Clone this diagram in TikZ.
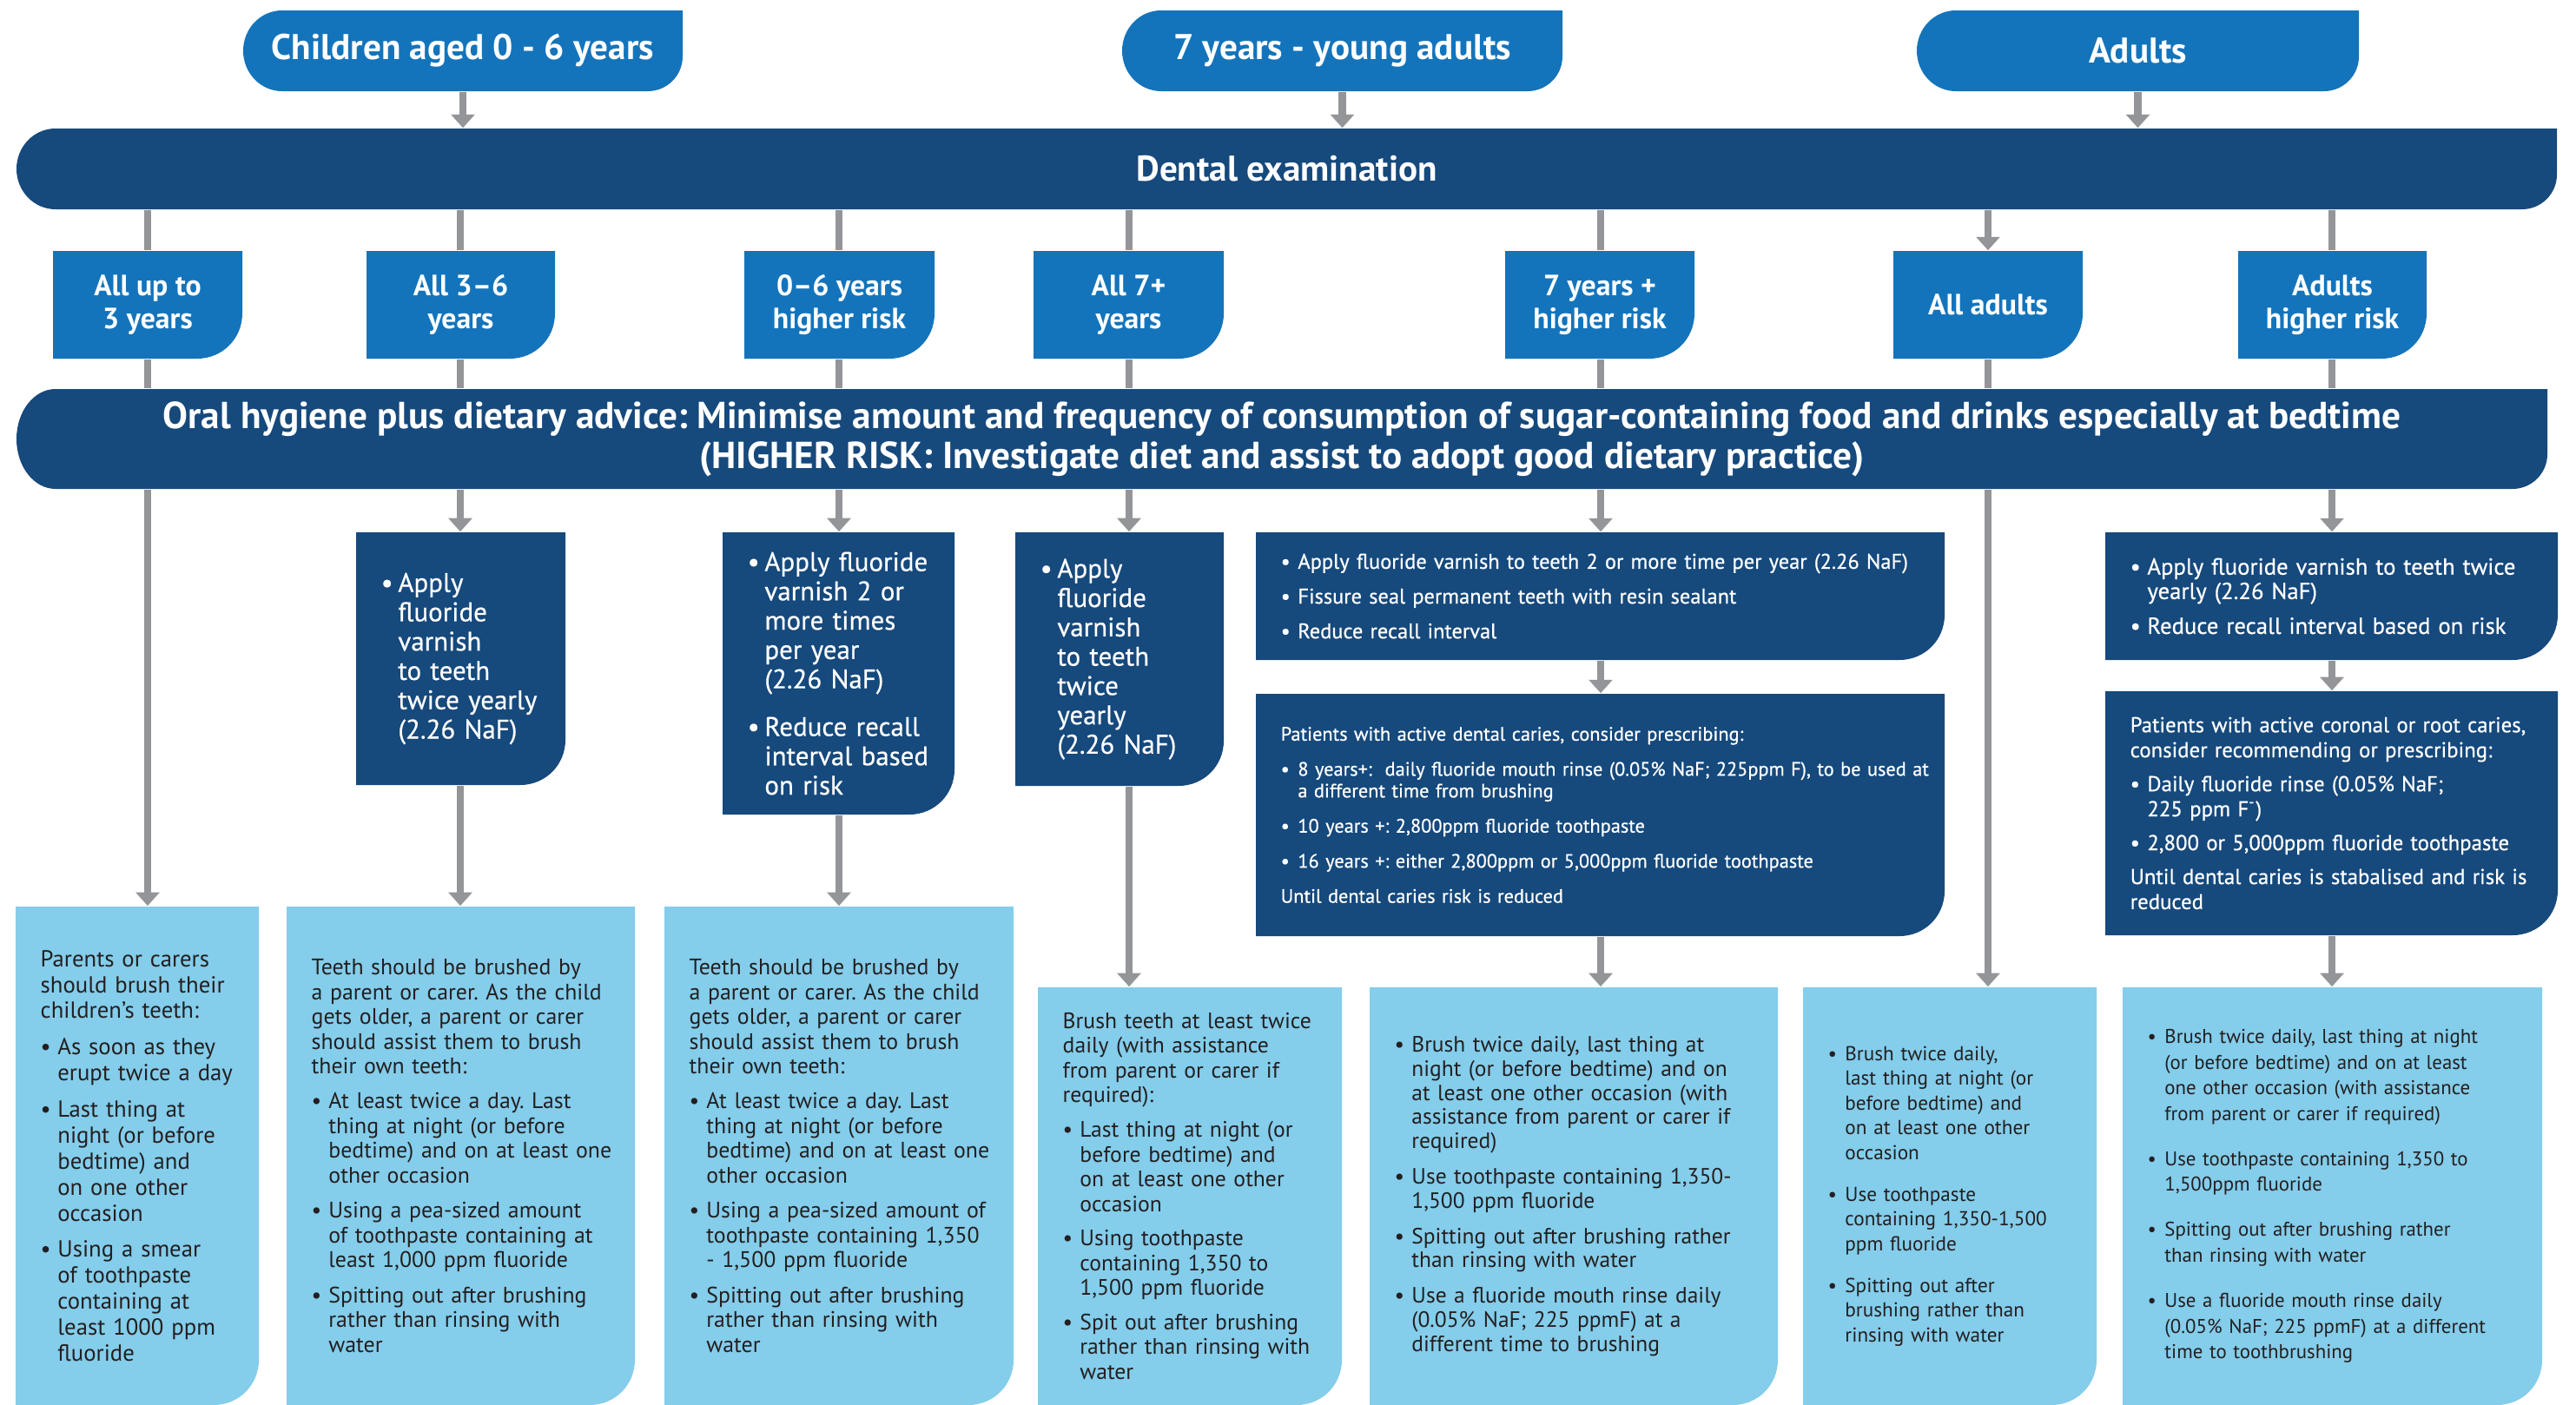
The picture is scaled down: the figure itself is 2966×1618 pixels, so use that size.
\documentclass[tikz,border=0pt]{standalone}
\usepackage{fontspec}
\setmainfont{PT Sans}
\newfontfamily\medfont{PT Sans}[FakeBold=0.5]
\usetikzlibrary{arrows.meta}
\frenchspacing

\definecolor{midblue}{HTML}{1474BB}
\definecolor{navy}{HTML}{16497C}
\definecolor{skyblue}{HTML}{84CDEB}
\definecolor{linegrey}{HTML}{939598}
\definecolor{inkgrey}{HTML}{231F20}

\tikzset{
  link/.style={linegrey, line width=2.3pt},
  arrow/.style={link, -{Triangle[length=4.4pt, width=7.6pt]}},
  itemgap/.style={execute at begin node={\setlength{\parskip}{#1}}},
  headtext/.style={text=white, font=\bfseries\fontsize{11.7}{13.1}\selectfont, align=center, inner sep=0pt},
  cattext/.style={text=white, font=\bfseries\fontsize{9.6}{10.8}\selectfont, align=center, inner sep=0pt},
  darktext/.style={text=white, font=\medfont\fontsize{8.8}{9.6}\selectfont, align=left, inner sep=0pt, itemgap=6pt},
  lighttext/.style={text=inkgrey, font=\fontsize{7.6}{8.5}\selectfont, align=left, inner sep=0pt, itemgap=3.4pt}
}

% bullet with hanging indent
\newcommand\bul{\hangindent=5.6pt\hangafter=1\makebox[5.6pt][l]{\textbullet}}

% box rounded on the left, bottom right corner rounded
\newcommand\capbox[8]{%
  \fill[#2] (#4+45,#5) -- (#6,#5) -- (#6,#7-40) .. controls (#6,#7-18) and (#6-18,#7) .. (#6-40,#7)
    -- (#4+45,#7) .. controls (#4+20,#7) and (#4,{#7-0.224*(#7-#5)}) .. (#4,{(#5+#7)/2})
    .. controls (#4,{#5+0.224*(#7-#5)}) and (#4+20,#5) .. (#4+45,#5) -- cycle;
  \pgfmathsetmacro\boxw{(#6-#4)*0.284528}%
  \pgfmathsetmacro\boxh{(#7-#5)*0.284528}%
  \node[#3, minimum width=\boxw pt, minimum height=\boxh pt] (#1) at ({(#4+#6)/2},{(#5+#7)/2}) {#8};
}

% category tab, bottom right corner rounded
\newcommand\tabcat[6]{%
  \fill[midblue] (#2,#3) -- (#4,#3) -- (#4,#5-52) .. controls (#4,#5-23) and (#4-23,#5) .. (#4-52,#5) -- (#2,#5) -- cycle;
  \pgfmathsetmacro\boxw{(#4-#2)*0.284528}%
  \pgfmathsetmacro\boxh{(#5-#3)*0.284528}%
  \node[cattext, minimum width=\boxw pt, minimum height=\boxh pt] (#1) at ({(#2+#4)/2},{(#3+#5)/2}) {#6};
}

% text box, bottom right corner rounded, text on the left
\newcommand\tabbox[8]{%
  \fill[#2] (#4,#5) -- (#6,#5) -- (#6,#7-52) .. controls (#6,#7-23) and (#6-23,#7) .. (#6-52,#7) -- (#4,#7) -- cycle;
  \pgfmathsetmacro\boxw{(#6-#4-36)*0.284528}%
  \pgfmathsetmacro\boxh{(#7-#5)*0.284528}%
  \node[#3, anchor=west, text width=\boxw pt, minimum height=\boxh pt] (#1) at (#4+28,{(#5+#7)/2}) {#8\par};
}

\begin{document}
\begin{tikzpicture}[x=0.01cm, y=-0.01cm]
\useasboundingbox (0,0) rectangle (2966,1618);

% age groups
\capbox{kids}{midblue}{headtext}{280}{12}{786}{105}{Children aged 0 - 6 years}
\capbox{youth}{midblue}{headtext}{1292}{12}{1799}{105}{7 years - young adults}
\capbox{adults}{midblue}{headtext}{2207}{12}{2716}{105}{Adults}

% bars
\capbox{exam}{navy}{headtext}{19}{148}{2944}{241}{Dental examination}
\capbox{oral}{navy}{headtext, font=\bfseries\fontsize{12.3}{13.1}\selectfont}{19}{448}{2933}{563}%
  {Oral hygiene plus dietary advice: Minimise amount and frequency of consumption of sugar-containing food and drinks especially at bedtime\\
   (HIGHER RISK: Investigate diet and assist to adopt good dietary practice)}

% categories
\tabcat{uptothree}{61}{289}{279}{413}{All up to\\3 years}
\tabcat{threesix}{422}{289}{639}{413}{All 3–6\\years}
\tabcat{zerosixhigh}{857}{289}{1076}{413}{0–6 years\\higher risk}
\tabcat{sevenplus}{1190}{289}{1409}{413}{All 7+\\years}
\tabcat{sevenhigh}{1733}{289}{1951}{413}{7 years +\\higher risk}
\tabcat{alladults}{2180}{289}{2398}{413}{All adults}
\tabcat{adulthigh}{2577}{289}{2794}{413}{Adults\\higher risk}

% professional care
\tabbox{var36}{navy}{darktext}{410}{613}{651}{904}%
  {\bul Apply\newline fluoride\newline varnish\newline to teeth\newline twice yearly\newline (2.26 NaF)}
\tabbox{var06}{navy}{darktext}{832}{613}{1099}{938}%
  {\bul Apply fluoride\newline varnish 2 or\newline more times\newline per year\newline (2.26 NaF)\par
   \bul Reduce recall\newline interval based\newline on risk}
\tabbox{var7}{navy}{darktext}{1169}{613}{1409}{905}%
  {\bul Apply\newline fluoride\newline varnish\newline to teeth\newline twice\newline yearly\newline (2.26 NaF)}
\tabbox{pro7}{navy}{darktext, font=\medfont\fontsize{6.95}{7.6}\selectfont, itemgap=3.8pt}{1446}{613}{2239}{760}%
  {\bul Apply fluoride varnish to teeth 2 or more time per year (2.26 NaF)\par
   \bul Fissure seal permanent teeth with resin sealant\par
   \bul Reduce recall interval}
\tabbox{rx7}{navy}{darktext, font=\medfont\fontsize{6.35}{7.1}\selectfont, itemgap=4.4pt}{1446}{799}{2239}{1078}%
  {Patients with active dental caries, consider prescribing:\par
   \bul 8 years+:\ \ daily fluoride mouth rinse (0.05\% NaF; 225ppm F), to be used at\newline a different time from brushing\par
   \bul 10 years +: 2,800ppm fluoride toothpaste\par
   \bul 16 years +: either 2,800ppm or 5,000ppm fluoride toothpaste\par
   Until dental caries risk is reduced}
\tabbox{proad}{navy}{darktext, font=\medfont\fontsize{7.6}{8}\selectfont, itemgap=3.4pt}{2424}{613}{2945}{760}%
  {\bul Apply fluoride varnish to teeth twice\newline yearly (2.26 NaF)\par
   \bul Reduce recall interval based on risk}
\tabbox{rxad}{navy}{darktext, font=\medfont\fontsize{7.05}{8.2}\selectfont, itemgap=2.9pt}{2424}{796}{2945}{1077}%
  {Patients with active coronal or root caries,\newline consider recommending or prescribing:\par
   \bul Daily fluoride rinse (0.05\% NaF;\newline 225 ppm F\textsuperscript{-})\par
   \bul 2,800 or 5,000ppm fluoride toothpaste\par
   Until dental caries is stabalised and risk is\newline reduced}

% home care
\tabbox{home1}{skyblue}{lighttext}{18}{1044}{298}{1618}%
  {Parents or carers\newline should brush their\newline children’s teeth:\par
   \bul As soon as they\newline erupt twice a day\par
   \bul Last thing at\newline night (or before\newline bedtime) and\newline on one other\newline occasion\par
   \bul Using a smear\newline of toothpaste\newline containing at\newline least 1000 ppm\newline fluoride}
\tabbox{home2}{skyblue}{lighttext, font=\fontsize{7.35}{8.1}\selectfont}{330}{1044}{731}{1618}%
  {Teeth should be brushed by\newline a parent or carer. As the child\newline gets older, a parent or carer\newline should assist them to brush\newline their own teeth:\par
   \bul At least twice a day. Last\newline thing at night (or before\newline bedtime) and on at least one\newline other occasion\par
   \bul Using a pea-sized amount\newline of toothpaste containing at\newline least 1,000 ppm fluoride\par
   \bul Spitting out after brushing\newline rather than rinsing with\newline water}
\tabbox{home3}{skyblue}{lighttext, font=\fontsize{7.35}{8.1}\selectfont}{765}{1044}{1167}{1618}%
  {Teeth should be brushed by\newline a parent or carer. As the child\newline gets older, a parent or carer\newline should assist them to brush\newline their own teeth:\par
   \bul At least twice a day. Last\newline thing at night (or before\newline bedtime) and on at least one\newline other occasion\par
   \bul Using a pea-sized amount of\newline toothpaste containing 1,350\newline - 1,500 ppm fluoride\par
   \bul Spitting out after brushing\newline rather than rinsing with\newline water}
\tabbox{home4}{skyblue}{lighttext, font=\fontsize{7.3}{8.1}\selectfont, itemgap=3.2pt}{1195}{1137}{1545}{1618}%
  {Brush teeth at least twice\newline daily (with assistance\newline from parent or carer if\newline required):\par
   \bul Last thing at night (or\newline before bedtime) and\newline on at least one other\newline occasion\par
   \bul Using toothpaste\newline containing 1,350 to\newline 1,500 ppm fluoride\par
   \bul Spit out after brushing\newline rather than rinsing with\newline water}
\tabbox{home5}{skyblue}{lighttext, font=\fontsize{7.25}{7.9}\selectfont, itemgap=3.7pt}{1577}{1137}{2047}{1618}%
  {\bul Brush twice daily, last thing at\newline night (or before bedtime) and on\newline at least one other occasion (with\newline assistance from parent or carer if\newline required)\par
   \bul Use toothpaste containing 1,350-\newline 1,500 ppm fluoride\par
   \bul Spitting out after brushing rather\newline than rinsing with water\par
   \bul Use a fluoride mouth rinse daily\newline (0.05\% NaF; 225 ppmF) at a\newline different time to brushing}
\tabbox{home6}{skyblue}{lighttext, font=\fontsize{6.6}{8.1}\selectfont, itemgap=5.5pt}{2076}{1137}{2414}{1618}%
  {\bul Brush twice daily,\newline last thing at night (or\newline before bedtime) and\newline on at least one other\newline occasion\par
   \bul Use toothpaste\newline containing 1,350-1,500\newline ppm fluoride\par
   \bul Spitting out after\newline brushing rather than\newline rinsing with water}
\tabbox{home7}{skyblue}{lighttext, font=\fontsize{6.5}{8.4}\selectfont, itemgap=6.4pt}{2444}{1137}{2927}{1618}%
  {\bul Brush twice daily, last thing at night\newline (or before bedtime) and on at least\newline one other occasion (with assistance\newline from parent or carer if required)\par
   \bul Use toothpaste containing 1,350 to\newline 1,500ppm fluoride\par
   \bul Spitting out after brushing rather\newline than rinsing with water\par
   \bul Use a fluoride mouth rinse daily\newline (0.05\% NaF; 225 ppmF) at a different\newline time to toothbrushing}

% columns
\coordinate (c1) at (170,0);
\coordinate (c2) at (530,0);
\coordinate (c3) at (966,0);
\coordinate (c4) at (1300,0);
\coordinate (c5) at (1843,0);
\coordinate (c6) at (2289,0);
\coordinate (c7) at (2685,0);

% connectors
\draw[arrow] (kids.south) -- (exam.north -| kids.south);
\draw[arrow] (youth.south) -- (exam.north -| youth.south);
\draw[arrow] (adults.south) -- (exam.north -| adults.south);

\draw[link] (exam.south -| c1) -- (uptothree.north -| c1);
\draw[link] (exam.south -| c2) -- (threesix.north -| c2);
\draw[link] (exam.south -| c3) -- (zerosixhigh.north -| c3);
\draw[link] (exam.south -| c4) -- (sevenplus.north -| c4);
\draw[link] (exam.south -| c5) -- (sevenhigh.north -| c5);
\draw[arrow] (exam.south -| c6) -- (alladults.north -| c6);
\draw[link] (exam.south -| c7) -- (adulthigh.north -| c7);

\draw[link] (uptothree.south -| c1) -- (oral.north -| c1);
\draw[link] (threesix.south -| c2) -- (oral.north -| c2);
\draw[link] (zerosixhigh.south -| c3) -- (oral.north -| c3);
\draw[link] (sevenplus.south -| c4) -- (oral.north -| c4);
\draw[link] (sevenhigh.south -| c5) -- (oral.north -| c5);
\draw[link] (alladults.south -| c6) -- (oral.north -| c6);
\draw[link] (adulthigh.south -| c7) -- (oral.north -| c7);

\draw[arrow] (oral.south -| c1) -- (home1.north -| c1);
\draw[arrow] (oral.south -| c2) -- (var36.north -| c2);
\draw[arrow] (var36.south -| c2) -- (home2.north -| c2);
\draw[arrow] (oral.south -| c3) -- (var06.north -| c3);
\draw[arrow] (var06.south -| c3) -- (home3.north -| c3);
\draw[arrow] (oral.south -| c4) -- (var7.north -| c4);
\draw[arrow] (var7.south -| c4) -- (home4.north -| c4);
\draw[arrow] (oral.south -| c5) -- (pro7.north -| c5);
\draw[arrow] (pro7.south -| c5) -- (rx7.north -| c5);
\draw[arrow] (rx7.south -| c5) -- (home5.north -| c5);
\draw[arrow] (oral.south -| c6) -- (home6.north -| c6);
\draw[arrow] (oral.south -| c7) -- (proad.north -| c7);
\draw[arrow] (proad.south -| c7) -- (rxad.north -| c7);
\draw[arrow] (rxad.south -| c7) -- (home7.north -| c7);
\end{tikzpicture}
\end{document}
